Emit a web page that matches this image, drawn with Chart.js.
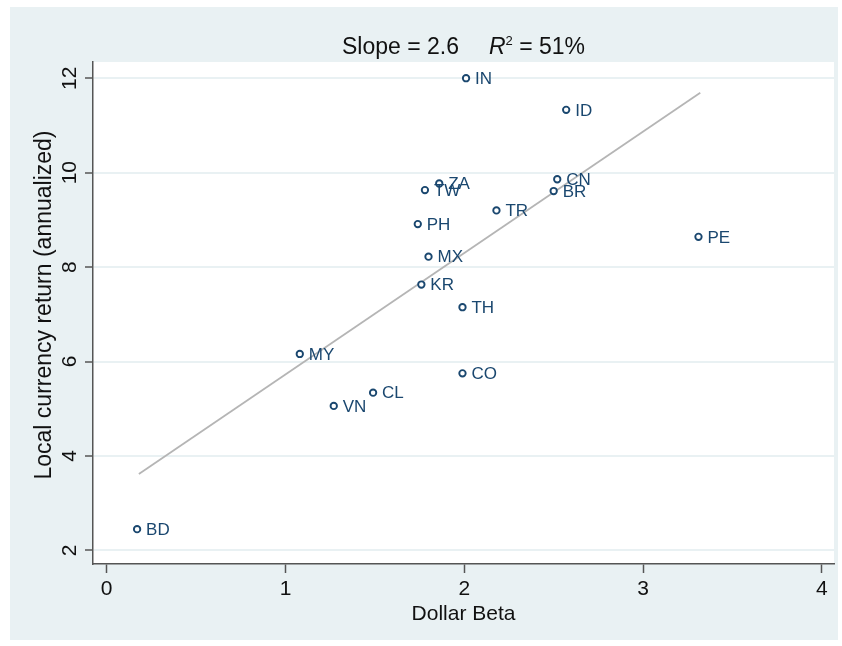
<!DOCTYPE html>
<html>
<head>
<meta charset="utf-8">
<script src="https://cdn.jsdelivr.net/npm/chart.js@4"></script>
<style>
  html, body { margin: 0; padding: 0; background: #fff; }
  #wrap { width: 842px; height: 646px; position: relative; }
</style>
</head>
<body>
<div id="wrap"><canvas id="scatter"></canvas></div>
<script>
// country codes and their values
const countries = ['IN', 'ID', 'CN', 'BR', 'ZA', 'TW', 'TR', 'PH', 'PE', 'MX', 'KR', 'TH', 'MY', 'CO', 'CL', 'VN', 'BD'];
const dollarBeta = [2.01, 2.57, 2.52, 2.50, 1.86, 1.78, 2.18, 1.74, 3.31, 1.80, 1.76, 1.99, 1.08, 1.99, 1.49, 1.27, 0.17];
const localReturn = [12.00, 11.33, 9.86, 9.61, 9.77, 9.63, 9.20, 8.91, 8.64, 8.22, 7.63, 7.15, 6.16, 5.75, 5.34, 5.06, 2.45];

// fitted line end points
const fitBeta = [0.18, 3.32];
const fitReturn = [3.62, 11.69];

const xTicks = [0, 1, 2, 3, 4];
const yTicks = [2, 4, 6, 8, 10, 12];

const slopeText = 'Slope = 2.6';
const r2Text = ' = 51%';
const xTitle = 'Dollar Beta';
const yTitle = 'Local currency return (annualized)';

const FONT = "'Liberation Sans', Arial, sans-serif";
const panelColor = '#e9f1f3';
const navy = '#1a476f';
const axisColor = '#555555';

const panelPlugin = {
  id: 'panel',
  beforeDraw(chart) {
    const ctx = chart.ctx;
    const a = chart.chartArea;
    ctx.save();
    ctx.fillStyle = '#ffffff';
    ctx.fillRect(0, 0, chart.width, chart.height);
    ctx.fillStyle = panelColor;
    ctx.fillRect(10, 7, 828, 633);
    ctx.fillStyle = '#ffffff';
    ctx.fillRect(a.left, a.top, a.right - a.left, a.bottom - a.top);
    ctx.restore();
  }
};

const textPlugin = {
  id: 'texts',
  afterDraw(chart) {
    const ctx = chart.ctx;
    const a = chart.chartArea;
    const xs = chart.scales.x;
    const ys = chart.scales.y;
    ctx.save();

    // title: Slope = 2.6    R^2 = 51%
    ctx.fillStyle = '#111';
    ctx.textBaseline = 'alphabetic';
    ctx.textAlign = 'left';
    ctx.font = '23px ' + FONT;
    const w1 = ctx.measureText(slopeText).width;
    const gap = 30;
    ctx.font = 'italic 23px ' + FONT;
    const wR = ctx.measureText('R').width;
    ctx.font = '13px ' + FONT;
    const wSup = ctx.measureText('2').width;
    ctx.font = '23px ' + FONT;
    const w3 = ctx.measureText(r2Text).width;
    const total = w1 + gap + wR + wSup + w3;
    let tx = (a.left + a.right) / 2 - total / 2;
    const tBase = 54;
    ctx.fillText(slopeText, tx, tBase);
    tx += w1 + gap;
    ctx.font = 'italic 23px ' + FONT;
    ctx.fillText('R', tx, tBase);
    tx += wR;
    ctx.font = '13px ' + FONT;
    ctx.fillText('2', tx, tBase - 9);
    tx += wSup;
    ctx.font = '23px ' + FONT;
    ctx.fillText(r2Text, tx, tBase);

    // y tick labels, rotated
    ctx.font = '21px ' + FONT;
    ctx.fillStyle = '#111';
    yTicks.forEach(v => {
      const py = ys.getPixelForValue(v);
      ctx.save();
      ctx.translate(76, py);
      ctx.rotate(-Math.PI / 2);
      ctx.textAlign = 'center';
      ctx.textBaseline = 'alphabetic';
      ctx.fillText(String(v), 0, 0);
      ctx.restore();
    });

    // y axis title
    ctx.save();
    ctx.translate(51, 305);
    ctx.rotate(-Math.PI / 2);
    ctx.textAlign = 'center';
    ctx.textBaseline = 'alphabetic';
    ctx.font = '23px ' + FONT;
    ctx.fillText(yTitle, 0, 0);
    ctx.restore();

    // x axis title
    ctx.textAlign = 'center';
    ctx.textBaseline = 'alphabetic';
    ctx.font = '21px ' + FONT;
    ctx.fillText(xTitle, (a.left + a.right) / 2, 620);

    // point labels
    ctx.font = '17px ' + FONT;
    ctx.fillStyle = navy;
    ctx.textAlign = 'left';
    ctx.textBaseline = 'middle';
    countries.forEach((c, i) => {
      const px = xs.getPixelForValue(dollarBeta[i]);
      const py = ys.getPixelForValue(localReturn[i]);
      ctx.fillText(c, px + 9, py + 1);
    });

    ctx.restore();
  }
};

const points = countries.map((c, i) => ({ x: dollarBeta[i], y: localReturn[i] }));
const fitLine = fitBeta.map((b, i) => ({ x: b, y: fitReturn[i] }));

new Chart(document.getElementById('scatter'), {
  type: 'scatter',
  data: {
    datasets: [
      {
        label: 'Countries',
        data: points,
        pointStyle: 'circle',
        pointRadius: 3.2,
        pointBorderWidth: 1.9,
        pointBackgroundColor: '#ffffff',
        pointBorderColor: navy,
        order: 1
      },
      {
        label: 'Fit',
        type: 'line',
        data: fitLine,
        borderColor: '#b5b5b5',
        borderWidth: 1.8,
        pointRadius: 0,
        fill: false,
        order: 2
      }
    ]
  },
  options: {
    responsive: true,
    maintainAspectRatio: false,
    animation: false,
    events: [],
    layout: { padding: { left: 10, right: 8, top: 62, bottom: 0 } },
    plugins: {
      legend: { display: false },
      tooltip: { enabled: false },
      title: { display: false }
    },
    scales: {
      x: {
        type: 'linear',
        min: -0.0766,
        max: 4.068,
        afterBuildTicks: axis => { axis.ticks = xTicks.map(v => ({ value: v })); },
        afterFit: axis => { axis.height = 82; },
        border: { display: true, color: axisColor, width: 1.5 },
        grid: {
          drawOnChartArea: false,
          drawTicks: true,
          tickLength: 9,
          tickColor: axisColor,
          tickWidth: 1.5
        },
        ticks: {
          color: '#111',
          font: { family: FONT, size: 21 },
          padding: 4,
          maxRotation: 0,
          minRotation: 0
        }
      },
      y: {
        type: 'linear',
        min: 1.712,
        max: 12.343,
        afterBuildTicks: axis => { axis.ticks = yTicks.map(v => ({ value: v })); },
        afterFit: axis => { axis.width = 83; },
        border: { display: true, color: axisColor, width: 1.5 },
        grid: {
          color: panelColor,
          lineWidth: 2,
          drawTicks: true,
          tickLength: 8,
          tickColor: axisColor,
          tickWidth: 1.5
        },
        ticks: { display: false }
      }
    }
  },
  plugins: [panelPlugin, textPlugin]
});
</script>
</body>
</html>
